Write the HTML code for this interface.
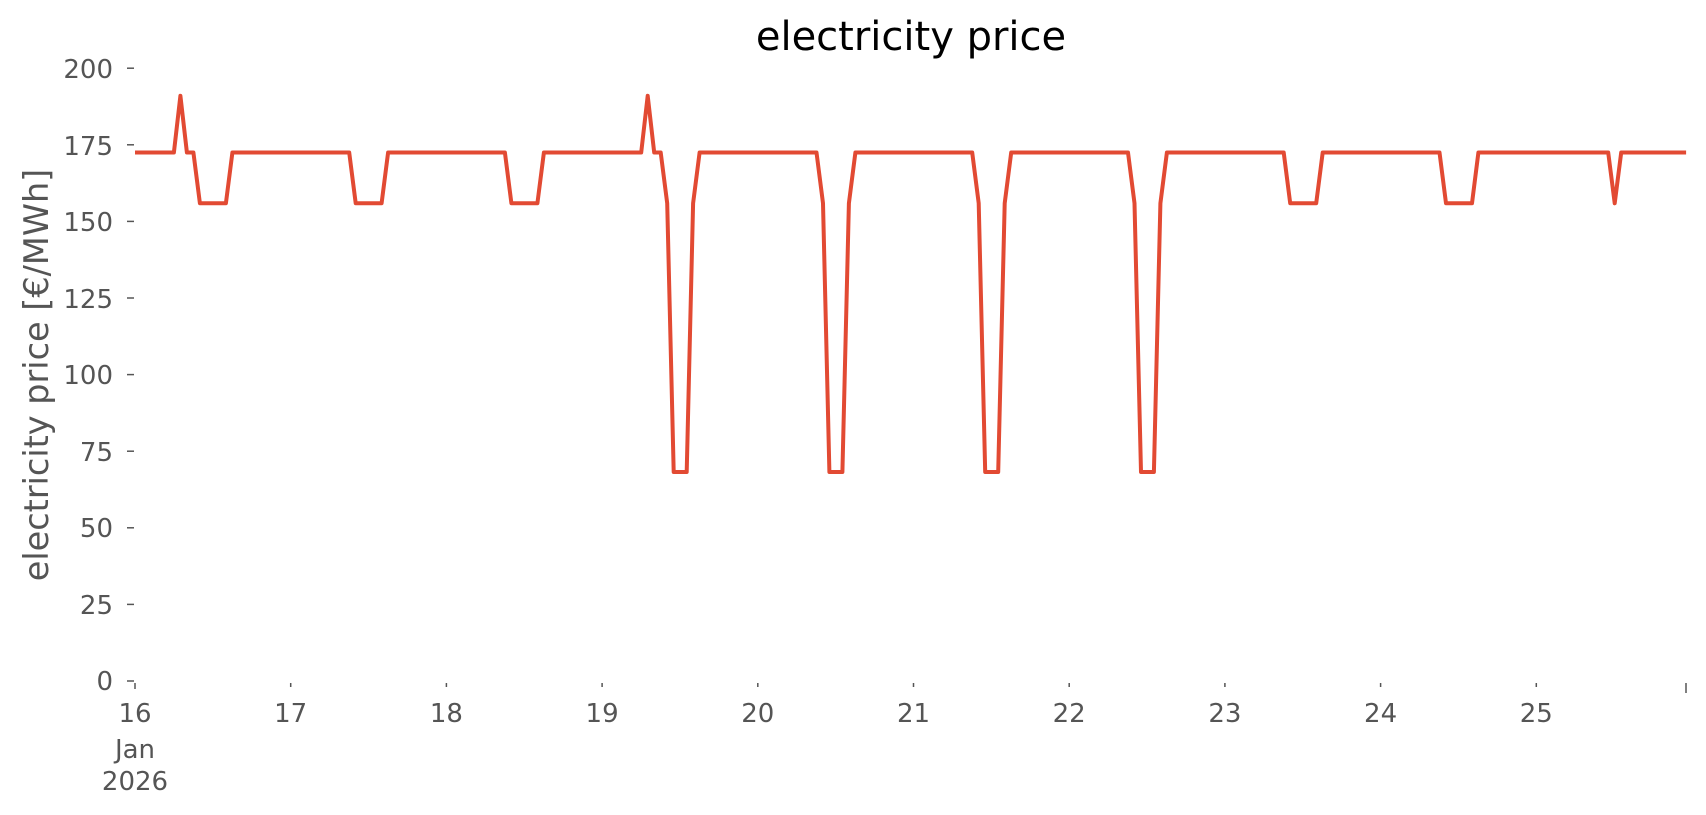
<!DOCTYPE html>
<html><head><meta charset="utf-8"><style>
html,body{margin:0;padding:0;background:#fff;}
svg{display:block;font-family:"DejaVu Sans","Liberation Sans",sans-serif;}
.t{fill:#555;font-size:26px;}
</style></head><body>
<svg width="1706" height="815" viewBox="0 0 1706 815" xmlns="http://www.w3.org/2000/svg">
<text x="911" y="50" text-anchor="middle" font-size="40" fill="#000">electricity price</text>
<text transform="translate(48,375) rotate(-90)" text-anchor="middle" font-size="33.5" fill="#555">electricity price [€/MWh]</text>
<g stroke="#555" stroke-width="1.5">
<line x1="127" y1="681" x2="134" y2="681"/><line x1="127" y1="604.4" x2="134" y2="604.4"/>
<line x1="127" y1="527.8" x2="134" y2="527.8"/><line x1="127" y1="451.2" x2="134" y2="451.2"/>
<line x1="127" y1="374.6" x2="134" y2="374.6"/><line x1="127" y1="298" x2="134" y2="298"/>
<line x1="127" y1="221.4" x2="134" y2="221.4"/><line x1="127" y1="144.8" x2="134" y2="144.8"/>
<line x1="127" y1="68.2" x2="134" y2="68.2"/>
<line x1="135" y1="683" x2="135" y2="689"/><line x1="290.7" y1="683" x2="290.7" y2="687"/>
<line x1="446.4" y1="683" x2="446.4" y2="687"/><line x1="602.1" y1="683" x2="602.1" y2="687"/>
<line x1="757.8" y1="683" x2="757.8" y2="687"/><line x1="913.5" y1="683" x2="913.5" y2="687"/>
<line x1="1069.2" y1="683" x2="1069.2" y2="687"/><line x1="1224.9" y1="683" x2="1224.9" y2="687"/>
<line x1="1380.6" y1="683" x2="1380.6" y2="687"/><line x1="1536.3" y1="683" x2="1536.3" y2="687"/>
<line x1="1686" y1="683" x2="1686" y2="693"/>
</g>
<g class="t" text-anchor="end">
<text x="113" y="690">0</text><text x="113" y="614">25</text><text x="113" y="537">50</text>
<text x="113" y="461">75</text><text x="113" y="384">100</text><text x="113" y="308">125</text>
<text x="113" y="231">150</text><text x="113" y="155">175</text><text x="113" y="78">200</text>
</g>
<g class="t" text-anchor="middle">
<text x="135" y="722">16</text><text x="135" y="758">Jan</text><text x="135" y="790">2026</text>
<text x="290.7" y="722">17</text><text x="446.4" y="722">18</text><text x="602.1" y="722">19</text>
<text x="757.8" y="722">20</text><text x="913.5" y="722">21</text><text x="1069.2" y="722">22</text>
<text x="1224.9" y="722">23</text><text x="1380.6" y="722">24</text><text x="1536.3" y="722">25</text>
</g>
<polyline fill="none" stroke="#E24A33" stroke-width="4" stroke-linejoin="round" points="
135,152.5 173.9,152.5 180.4,95.8 186.9,152.5 193.4,152.5 199.9,203.3 225.9,203.3 232.4,152.5
349.2,152.5 355.7,203.3 381.6,203.3 388.1,152.5
504.9,152.5 511.4,203.3 537.4,203.3 543.9,152.5
641.2,152.5 647.7,95.8 654.2,152.5 660.7,152.5 667.2,203.3 673.7,472 686.7,472 693.1,203.3 699.6,152.5
816.5,152.5 823,203.3 829.4,472 842.4,472 848.9,203.3 855.4,152.5
972.2,152.5 978.7,203.3 985.2,472 998.2,472 1004.7,203.3 1011.2,152.5
1128,152.5 1134.5,203.3 1141,472 1153.9,472 1160.4,203.3 1166.9,152.5
1283.7,152.5 1290.2,203.3 1316.2,203.3 1322.7,152.5
1439.5,152.5 1446,203.3 1472,203.3 1478.4,152.5
1608.2,152.5 1614.7,203.3 1621.2,152.5 1686.1,152.5"/>
</svg>
</body></html>
